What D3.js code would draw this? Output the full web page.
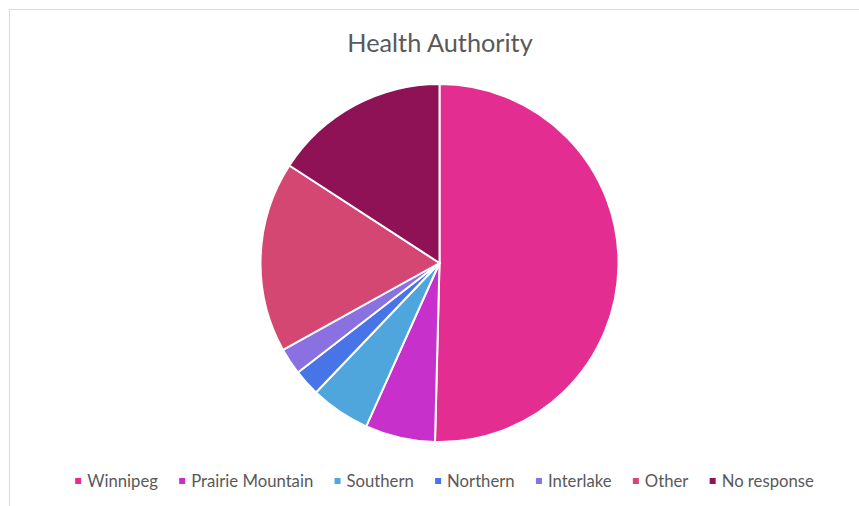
<!DOCTYPE html>
<html>
<head>
<meta charset="utf-8">
<script src="https://cdn.jsdelivr.net/npm/d3@7"></script>
<style>
  html, body { margin: 0; padding: 0; background: #fff; }
  svg { display: block; }
</style>
</head>
<body>
<svg id="chart" width="859" height="506"></svg>
<script>
const categories = ["Winnipeg", "Prairie Mountain", "Southern", "Northern", "Interlake", "Other", "No response"];
const values = [50.3, 6.3, 5.4, 2.4, 2.4, 17.2, 15.8];
const colors = ["#E32D91", "#C830CC", "#4EA6DC", "#4775E7", "#8971E1", "#D54773", "#901256"];
const title = "Health Authority";

const svg = d3.select("#chart");
const W = 859, H = 506;
const FONT = "Lato, 'Open Sans', sans-serif";

// chart area border
svg.append("rect")
  .attr("x", 9.5).attr("y", 9.5)
  .attr("width", W + 20).attr("height", H + 20)
  .attr("fill", "#fff")
  .attr("stroke", "#d9d9d9").attr("stroke-width", 1);

svg.append("text")
  .attr("x", 440).attr("y", 52)
  .attr("text-anchor", "middle")
  .attr("font-family", FONT)
  .attr("font-size", 25.3)
  .attr("fill", "#595959")
  .text(title);

const cx = 439.5, cy = 263, r = 179;
const pie = d3.pie().sort(null).value(d => d.v);
const arc = d3.arc().innerRadius(0).outerRadius(r);
const data = categories.map((c, i) => ({ c, v: values[i], col: colors[i] }));

svg.append("g")
  .attr("transform", `translate(${cx},${cy})`)
  .selectAll("path")
  .data(pie(data))
  .join("path")
  .attr("d", arc)
  .attr("fill", d => d.data.col)
  .attr("stroke", "#fff")
  .attr("stroke-width", 2)
  .attr("stroke-linejoin", "round");

// legend
const legend = svg.append("g");
const fs = 16.7, box = 6, boxGap = 6, itemGap = 21.3, ly = 481;
const items = legend.selectAll("g").data(data).join("g");
items.append("rect")
  .attr("width", box).attr("height", box)
  .attr("y", ly - box / 2)
  .attr("fill", d => d.col);
items.append("text")
  .attr("y", ly)
  .attr("dy", "0.35em")
  .attr("font-family", FONT)
  .attr("font-size", fs)
  .attr("fill", "#595959")
  .text(d => d.c);

let widths = [];
items.each(function() {
  widths.push(d3.select(this).select("text").node().getComputedTextLength());
});
const total = d3.sum(widths) + data.length * (box + boxGap) + (data.length - 1) * itemGap;
let x = 444.5 - total / 2;
items.each(function(d, i) {
  const g = d3.select(this);
  g.select("rect").attr("x", x);
  g.select("text").attr("x", x + box + boxGap);
  x += box + boxGap + widths[i] + itemGap;
});
</script>
</body>
</html>
